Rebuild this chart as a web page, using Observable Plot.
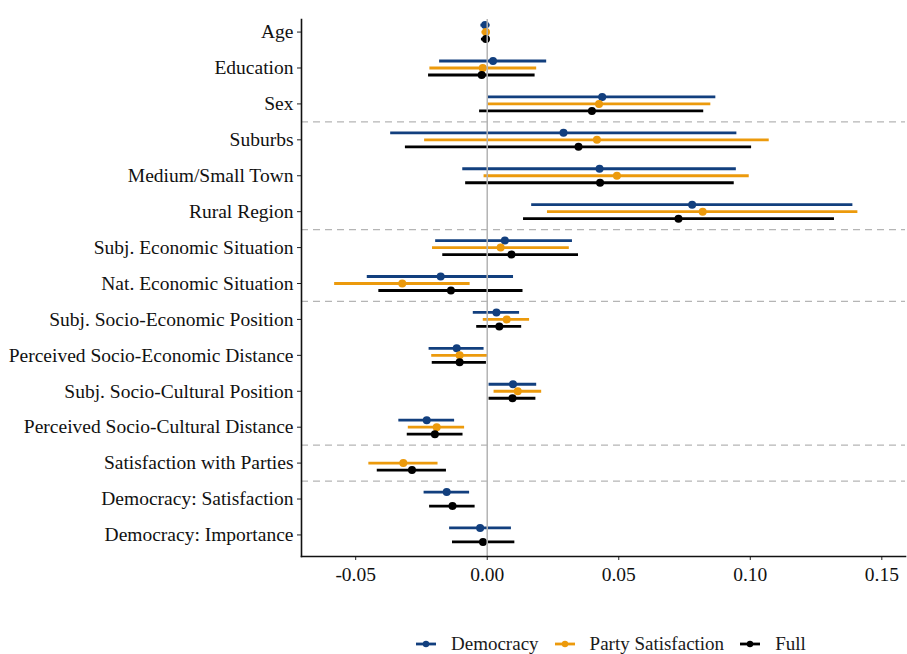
<!DOCTYPE html>
<html>
<head>
<meta charset="utf-8">
<script src="https://cdn.jsdelivr.net/npm/d3@7"></script>
<script src="https://cdn.jsdelivr.net/npm/@observablehq/plot@0.6"></script>
<style>
  body { margin: 0; background: #fff; font-family: "Liberation Serif", "Times New Roman", serif; }
  #legend { height: 54px; position: relative; }
  #legend .items { position: absolute; left: 415px; top: 32px; height: 24px; display: flex; align-items: center; font-size: 19px; color: #1a1a1a; }
  #legend .item { display: flex; align-items: center; margin-right: 15px; }
  #legend svg { margin-right: 14px; }
</style>
</head>
<body>
<div id="chart"></div>
<div id="legend"><div class="items"></div></div>
<script>
const categories = [
  "Age", "Education", "Sex", "Suburbs", "Medium/Small Town", "Rural Region",
  "Subj. Economic Situation", "Nat. Economic Situation",
  "Subj. Socio-Economic Position", "Perceived Socio-Economic Distance",
  "Subj. Socio-Cultural Position", "Perceived Socio-Cultural Distance",
  "Satisfaction with Parties", "Democracy: Satisfaction", "Democracy: Importance"
];
const separatorsAfter = ["Sex", "Rural Region", "Nat. Economic Situation",
  "Perceived Socio-Cultural Distance", "Satisfaction with Parties"];

const models = ["Democracy", "Party Satisfaction", "Full"];
const modelColors = ["#123f7e", "#ec9a0c", "#000000"];

// Democracy model
const demEst = [-0.0008, 0.0022, 0.0437, 0.0290, 0.0427, 0.0779, 0.0067, -0.0177, 0.0035, -0.0116, 0.0098, -0.0230, null, -0.0154, -0.0027];
const demLo  = [-0.0024, -0.0181, 0.0003, -0.0367, -0.0093, 0.0169, -0.0196, -0.0456, -0.0053, -0.0221, 0.0007, -0.0336, null, -0.0240, -0.0143];
const demHi  = [0.0011, 0.0226, 0.0869, 0.0949, 0.0947, 0.1390, 0.0324, 0.0100, 0.0123, -0.0012, 0.0188, -0.0124, null, -0.0067, 0.0092];
// Party Satisfaction model
const parEst = [-0.0005, -0.0017, 0.0425, 0.0417, 0.0493, 0.0819, 0.0051, -0.0323, 0.0074, -0.0105, 0.0116, -0.0192, -0.0319, null, null];
const parLo  = [-0.0020, -0.0218, 0.0002, -0.0238, -0.0012, 0.0229, -0.0208, -0.0580, -0.0015, -0.0211, 0.0026, -0.0300, -0.0450, null, null];
const parHi  = [0.0011, 0.0188, 0.0850, 0.1072, 0.0996, 0.1409, 0.0312, -0.0065, 0.0161, 0.0001, 0.0207, -0.0086, -0.0187, null, null];
// Full model
const fulEst = [-0.0005, -0.0021, 0.0398, 0.0347, 0.0429, 0.0727, 0.0092, -0.0138, 0.0046, -0.0105, 0.0096, -0.0199, -0.0286, -0.0132, -0.0016];
const fulLo  = [-0.0022, -0.0223, -0.0029, -0.0311, -0.0082, 0.0138, -0.0169, -0.0412, -0.0040, -0.0209, 0.0007, -0.0304, -0.0418, -0.0219, -0.0132];
const fulHi  = [0.0011, 0.0182, 0.0823, 0.1005, 0.0939, 0.1320, 0.0347, 0.0136, 0.0131, -0.0003, 0.0185, -0.0092, -0.0155, -0.0046, 0.0105];

const xTicks = [-0.05, 0.00, 0.05, 0.10, 0.15];

const series = [
  {est: demEst, lo: demLo, hi: demHi},
  {est: parEst, lo: parLo, hi: parHi},
  {est: fulEst, lo: fulLo, hi: fulHi}
];
const offsets = [-7, 0, 7];

const marks = [];
marks.push(Plot.ruleY(separatorsAfter.map(c => categories.indexOf(c) + 0.5),
  {y: d => d, stroke: "#b5b5b5", strokeWidth: 1.3, strokeDasharray: "7,5"}));

series.forEach((s, m) => {
  const rows = categories.map((c, i) => ({i, est: s.est[i], lo: s.lo[i], hi: s.hi[i]})).filter(d => d.est != null);
  marks.push(Plot.ruleY(rows, {y: "i", x1: "lo", x2: "hi", dy: offsets[m], stroke: modelColors[m], strokeWidth: 2.8}));
  marks.push(Plot.dot(rows, {x: "est", y: "i", dy: offsets[m], r: 4, fill: modelColors[m], stroke: "none"}));
});
marks.push(Plot.ruleX([0], {stroke: "#b3b3b3", strokeWidth: 1.5}));

marks.push(Plot.axisY({ticks: categories.map((c, i) => i), tickFormat: i => categories[i], tickSize: 4, tickPadding: 4, stroke: "#222", fill: "#111", fontSize: 19.5, label: null}));
marks.push(Plot.axisX({ticks: xTicks, tickFormat: d => d.toFixed(2), tickSize: 4, tickPadding: 7, stroke: "#222", fill: "#111", fontSize: 19.5, label: null}));
marks.push(Plot.frame({anchor: "left", stroke: "#111", strokeWidth: 1.6}));
marks.push(Plot.frame({anchor: "bottom", stroke: "#111", strokeWidth: 1.6}));

const chart = Plot.plot({
  width: 907,
  height: 600,
  marginLeft: 301,
  marginRight: 2,
  marginTop: 19,
  marginBottom: 44,
  style: {fontFamily: "'Liberation Serif', 'Times New Roman', serif", fontSize: "19.5px", background: "#fff", color: "#111"},
  x: {domain: [-0.0706, 0.159]},
  y: {domain: [-0.35, 14.6], reverse: true},
  marks
});
document.getElementById("chart").appendChild(chart);

const items = document.querySelector("#legend .items");
models.forEach((name, m) => {
  const it = document.createElement("div");
  it.className = "item";
  it.innerHTML = `<svg width="22" height="10"><line x1="1" x2="21" y1="5" y2="5" stroke="${modelColors[m]}" stroke-width="2.8"/><circle cx="11" cy="5" r="3.2" fill="${modelColors[m]}"/></svg><span>${name}</span>`;
  items.appendChild(it);
});
</script>
</body>
</html>
